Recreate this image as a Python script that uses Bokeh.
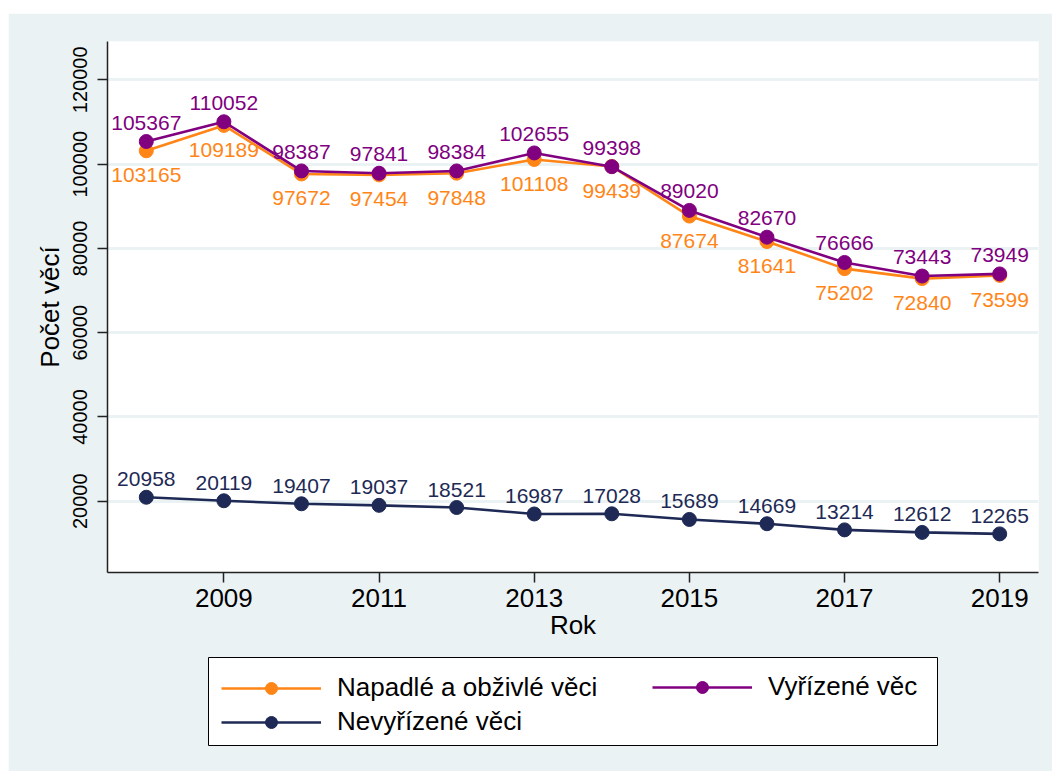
from bokeh.plotting import figure
from bokeh.models import (ColumnDataSource, Legend, LegendItem, Range1d, FixedTicker,
                          NumeralTickFormatter)
from bokeh.core.properties import value
from bokeh.embed import file_html
from bokeh.resources import INLINE

years = [2008, 2009, 2010, 2011, 2012, 2013, 2014, 2015, 2016, 2017, 2018, 2019]
napadle = [103165, 109189, 97672, 97454, 97848, 101108, 99439, 87674, 81641, 75202, 72840, 73599]
vyrizene = [105367, 110052, 98387, 97841, 98384, 102655, 99398, 89020, 82670, 76666, 73443, 73949]
nevyrizene = [20958, 20119, 19407, 19037, 18521, 16987, 17028, 15689, 14669, 13214, 12612, 12265]
x_ticks = [2009, 2011, 2013, 2015, 2017, 2019]
y_ticks = [20000, 40000, 60000, 80000, 100000, 120000]

names = ["Napadlé a obživlé věci", "Vyřízené věc", "Nevyřízené věci"]
colors = ["#ff8517", "#800080", "#1e2a55"]

BG = "#eaf2f3"
FONT = "Liberation Sans"

src = ColumnDataSource(dict(x=years, a=napadle, b=vyrizene, c=nevyrizene,
                            at=[str(v) for v in napadle],
                            bt=[str(v) for v in vyrizene],
                            ct=[str(v) for v in nevyrizene]))

# ---------------- main chart ----------------
p = figure(width=1044, height=639, output_backend="svg", toolbar_location=None,
           x_range=Range1d(2007.5, 2019.5), y_range=Range1d(3100, 129100),
           background_fill_color="white", border_fill_color=BG,
           min_border_left=99, min_border_right=14, min_border_top=28, min_border_bottom=80,
           margin=(13, 0, 0, 8))
p.outline_line_color = None

for key, col in [("a", colors[0]), ("b", colors[1]), ("c", colors[2])]:
    p.line("x", key, source=src, line_color=col, line_width=2.6)
    p.scatter("x", key, source=src, marker="circle", size=14, fill_color=col, line_color=col)

# data labels
p.text("x", "a", text="at", source=src, text_color=colors[0], text_font=value(FONT),
       text_font_size="21px", text_align="center", text_baseline="alphabetic", y_offset=24.5)
p.text("x", "b", text="bt", source=src, text_color=colors[1], text_font=value(FONT),
       text_font_size="21px", text_align="center", text_baseline="alphabetic", y_offset=-19)
p.text("x", "c", text="ct", source=src, text_color=colors[2], text_font=value(FONT),
       text_font_size="21px", text_align="center", text_baseline="alphabetic", y_offset=-18)

for ax in (p.xaxis[0], p.yaxis[0]):
    ax.axis_line_color = "#222222"
    ax.axis_line_width = 1.5
    ax.major_tick_line_color = "#222222"
    ax.major_tick_line_width = 1.5
    ax.major_tick_out = 10
    ax.major_tick_in = 0
    ax.minor_tick_line_color = None
    ax.major_label_text_font = FONT
    ax.major_label_text_color = "black"
    ax.axis_label_text_font = FONT
    ax.axis_label_text_font_style = "normal"
    ax.axis_label_text_font_size = "26px"
    ax.axis_label_text_color = "black"

p.xaxis.ticker = FixedTicker(ticks=x_ticks)
p.yaxis.ticker = FixedTicker(ticks=y_ticks)
p.yaxis.formatter = NumeralTickFormatter(format="0")
p.xaxis.major_label_text_font_size = "26px"
p.yaxis.major_label_text_font_size = "20px"
p.yaxis.major_label_orientation = "vertical"
p.xaxis.axis_label = "Rok"
p.yaxis.axis_label = "Počet věcí"
p.xaxis.major_label_standoff = 6
p.xaxis.axis_label_standoff = 0
p.yaxis.major_label_standoff = 10
p.yaxis.axis_label_standoff = 6

p.xgrid.grid_line_color = None
p.ygrid.grid_line_color = BG
p.ygrid.grid_line_width = 3

# ---------------- legend panel ----------------
lg = figure(width=1044, height=121, output_backend="svg", toolbar_location=None,
            x_range=Range1d(0, 1), y_range=Range1d(0, 1),
            x_axis_location=None, y_axis_location=None,
            background_fill_color="white", border_fill_color=BG,
            min_border_left=200, min_border_right=115, min_border_top=7, min_border_bottom=26,
            margin=(-2, 0, 0, 8))
lg.outline_line_color = "black"
lg.outline_line_width = 1
lg.grid.visible = False

# legend swatches (series drawn outside this panel's visible range, only their legend glyphs show)
leg_r = []
for key, col in [("a", colors[0]), ("b", colors[1]), ("c", colors[2])]:
    l = lg.line("x", key, source=src, line_color=col, line_width=2.6)
    s = lg.scatter("x", key, source=src, marker="circle", size=14, fill_color=col, line_color=col)
    leg_r.append([l, s])

common = dict(orientation="vertical", glyph_width=100, glyph_height=30, label_height=30,
              label_standoff=16, spacing=3, padding=13, margin=0,
              label_text_font=FONT, label_text_font_size="26px", label_text_color="black",
              border_line_color=None, background_fill_alpha=0.0)
legend_a = Legend(items=[LegendItem(label=names[0], renderers=leg_r[0]),
                         LegendItem(label=names[2], renderers=leg_r[2])],
                  location=(13, 8), **common)
legend_b = Legend(items=[LegendItem(label=names[1], renderers=leg_r[1])],
                  location=(444, 43), **common)
lg.add_layout(legend_a, "center")
lg.add_layout(legend_b, "center")

open("out.html", "w").write(file_html([p, lg], INLINE))
